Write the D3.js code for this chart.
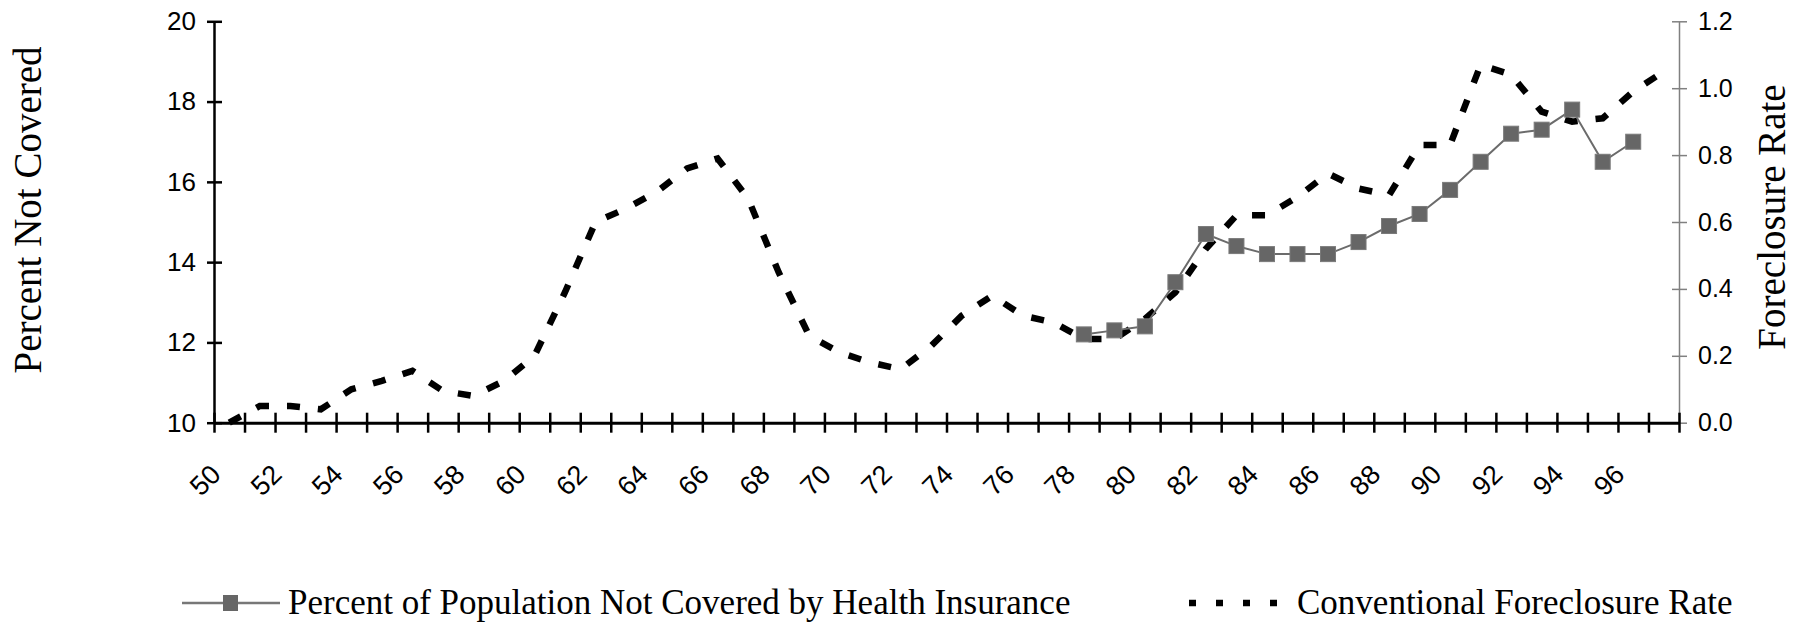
<!DOCTYPE html>
<html>
<head>
<meta charset="utf-8">
<script src="https://cdn.jsdelivr.net/npm/d3@7"></script>
<style>
body { margin: 0; background: #fff; }
svg { display: block; }
</style>
</head>
<body>
<script>
// categories (two-digit years) and values
var years = ["50","51","52","53","54","55","56","57","58","59",
             "60","61","62","63","64","65","66","67","68","69",
             "70","71","72","73","74","75","76","77","78","79",
             "80","81","82","83","84","85","86","87","88","89",
             "90","91","92","93","94","95","96","97"];
var foreclosure = [0.00,0.05,0.05,0.04,0.10,0.125,0.155,0.095,0.08,0.125,
                   0.20,0.39,0.60,0.64,0.69,0.76,0.79,0.67,0.45,0.26,
                   0.21,0.18,0.16,0.23,0.32,0.38,0.32,0.30,0.25,0.25,
                   0.31,0.39,0.52,0.62,0.62,0.675,0.745,0.70,0.68,0.83,
                   0.83,1.07,1.04,0.93,0.90,0.91,0.99,1.05];
var uninsuredYears = ["78","79","80","81","82","83","84","85","86","87",
                      "88","89","90","91","92","93","94","95","96"];
var uninsured = [12.2,12.3,12.4,13.5,14.7,14.4,14.2,14.2,14.2,14.5,
                 14.9,15.2,15.8,16.5,17.2,17.3,17.8,16.5,17.0];
var xLabels = ["50","52","54","56","58","60","62","64","66","68","70","72",
               "74","76","78","80","82","84","86","88","90","92","94","96"];
var leftTicks = [10,12,14,16,18,20];
var rightTicks = [0,0.2,0.4,0.6,0.8,1.0,1.2];

var width = 1796;
var height = 628;
var plotLeft = 214, plotRight = 1679, plotTop = 21.3, plotBottom = 422.7;
var sans = "'Liberation Sans', Arial, sans-serif";
var serif = "'Liberation Serif', 'Times New Roman', serif";

var svg = d3.select("body")
            .append("svg")
            .attr("width",width)
            .attr("height",height);

var x = d3.scaleBand().domain(years).range([plotLeft,plotRight]);
var xEdge = d3.scaleLinear().domain([0,years.length]).range([plotLeft,plotRight]);
var yLeft = d3.scaleLinear().domain([10,20]).range([plotBottom,plotTop]);
var yRight = d3.scaleLinear().domain([0,1.2]).range([plotBottom,plotTop]);

function cx(d){ return x(d) + x.bandwidth()/2; }

// right axis (grey)
var gR = svg.append("g")
    .attr("transform","translate("+plotRight+",0)")
    .call(d3.axisRight(yRight).tickValues(rightTicks).tickFormat(d3.format(".1f"))
            .tickSize(8).tickSizeOuter(0).tickPadding(11));
gR.attr("font-family",sans).attr("font-size",25);
gR.select(".domain").attr("stroke","#808080").attr("stroke-width",1.5);
gR.selectAll(".tick line").attr("x1",-7).attr("stroke","#808080").attr("stroke-width",1.5);
gR.selectAll(".tick text").attr("fill","#000");

// left axis
var gL = svg.append("g")
    .attr("transform","translate("+plotLeft+",0)")
    .call(d3.axisLeft(yLeft).tickValues(leftTicks).tickFormat(d3.format("d"))
            .tickSize(7).tickSizeOuter(0).tickPadding(11));
gL.attr("font-family",sans).attr("font-size",26);
gL.select(".domain").attr("stroke","#000").attr("stroke-width",2.5);
gL.selectAll(".tick line").attr("x1",8).attr("stroke-width",2.5);

// x axis with ticks on category boundaries
var gX = svg.append("g")
    .attr("transform","translate(0,"+plotBottom+")")
    .call(d3.axisBottom(xEdge).tickValues(d3.range(0,years.length+1)).tickFormat("")
            .tickSize(10).tickSizeOuter(0));
gX.select(".domain").attr("stroke","#000").attr("stroke-width",3);
gX.selectAll(".tick line").attr("y1",-10).attr("stroke-width",2.5);

svg.append("g")
   .attr("font-family",sans)
   .attr("font-size",27)
   .selectAll("text")
   .data(xLabels)
   .enter()
   .append("text")
   .attr("text-anchor","end")
   .attr("transform",function(d){ return "translate("+(cx(d)-7)+",476) rotate(-45)"; })
   .text(function(d){ return d; });

// foreclosure rate (dashed, right axis)
var fLine = d3.line()
    .x(function(d,i){ return cx(years[i]); })
    .y(function(d){ return yRight(d); });
svg.append("path")
   .datum(foreclosure)
   .attr("d",fLine)
   .attr("fill","none")
   .attr("stroke","#000")
   .attr("stroke-width",6.5)
   .attr("stroke-dasharray","13,18");

// uninsured (grey squares, left axis)
var uLine = d3.line()
    .x(function(d,i){ return cx(uninsuredYears[i]); })
    .y(function(d){ return yLeft(d); });
svg.append("path")
   .datum(uninsured)
   .attr("d",uLine)
   .attr("fill","none")
   .attr("stroke","#6b6b6b")
   .attr("stroke-width",2);
svg.selectAll(".sq")
   .data(uninsured)
   .enter()
   .append("rect")
   .attr("class","sq")
   .attr("x",function(d,i){ return cx(uninsuredYears[i]) - 7.5; })
   .attr("y",function(d){ return yLeft(d) - 7.5; })
   .attr("width",15)
   .attr("height",15)
   .attr("fill","#666")
   .attr("stroke","#7a7a7a")
   .attr("stroke-width",1);

// axis titles
svg.append("text")
   .attr("transform","translate(41,210) rotate(-90)")
   .attr("text-anchor","middle")
   .attr("font-family",serif)
   .attr("font-size",39)
   .text("Percent Not Covered");
svg.append("text")
   .attr("transform","translate(1785,217) rotate(-90)")
   .attr("text-anchor","middle")
   .attr("font-family",serif)
   .attr("font-size",39)
   .text("Foreclosure Rate");

// legend
var legY = 603;
svg.append("line")
   .attr("x1",182).attr("x2",280).attr("y1",legY).attr("y2",legY)
   .attr("stroke","#777").attr("stroke-width",2.5);
svg.append("rect")
   .attr("x",223).attr("y",legY-8).attr("width",15).attr("height",16)
   .attr("fill","#666");
svg.append("text")
   .attr("x",288).attr("y",614)
   .attr("font-family",serif).attr("font-size",35)
   .text("Percent of Population Not Covered by Health Insurance");
svg.append("line")
   .attr("x1",1189).attr("x2",1278).attr("y1",legY).attr("y2",legY)
   .attr("stroke","#000").attr("stroke-width",6.5)
   .attr("stroke-dasharray","7,20");
svg.append("text")
   .attr("x",1297).attr("y",614)
   .attr("font-family",serif).attr("font-size",35)
   .text("Conventional Foreclosure Rate");
</script>
</body>
</html>
